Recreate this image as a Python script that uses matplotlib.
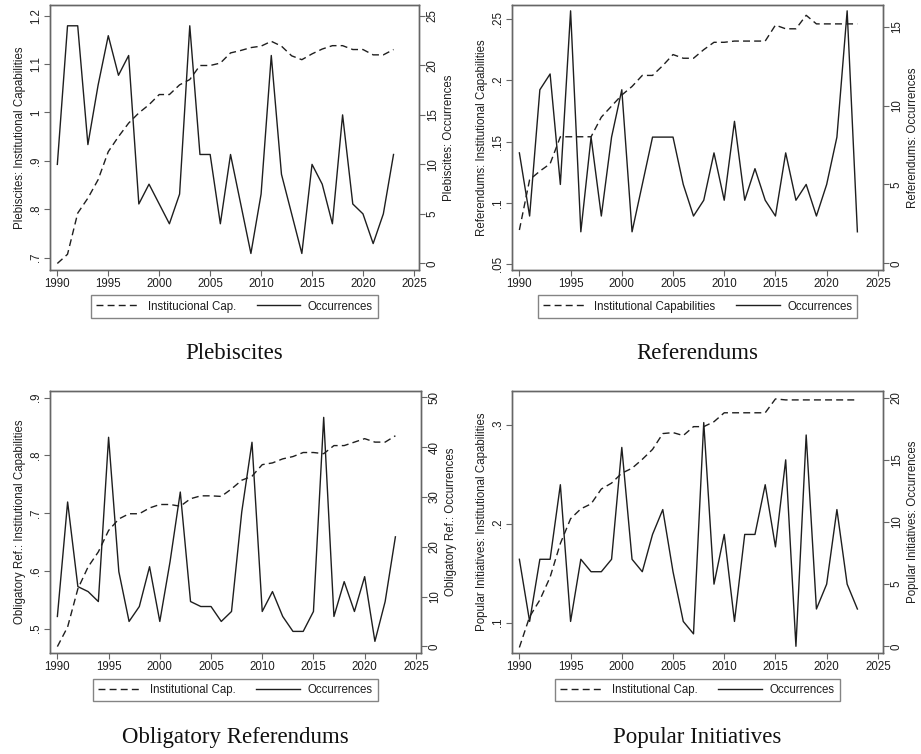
import matplotlib
matplotlib.use("Agg")
import matplotlib.pyplot as plt
from matplotlib.ticker import FuncFormatter

plt.rcParams['font.family'] = ['Liberation Sans', 'DejaVu Sans']

years = list(range(1990, 2024))

# Plebiscites
pleb_cap = [0.688, 0.707, 0.792, 0.823, 0.861, 0.919, 0.950, 0.978, 0.999, 1.016,
            1.037, 1.037, 1.057, 1.068, 1.097, 1.097, 1.102, 1.123, 1.128, 1.134,
            1.137, 1.147, 1.137, 1.117, 1.109, 1.121, 1.131, 1.138, 1.138, 1.130,
            1.130, 1.119, 1.119, 1.130]
pleb_occ = [10, 24, 24, 12, 18, 23, 19, 21, 6, 8, 6, 4, 7, 24, 11, 11, 4, 11, 6, 1,
            7, 21, 9, 5, 1, 10, 8, 4, 15, 6, 5, 2, 5, 11]

# Referendums
ref_cap = [0.078, 0.119, 0.126, 0.132, 0.154, 0.154, 0.154, 0.154, 0.170, 0.179,
           0.188, 0.195, 0.204, 0.204, 0.212, 0.221, 0.218, 0.218, 0.225, 0.231,
           0.231, 0.232, 0.232, 0.232, 0.232, 0.245, 0.242, 0.242, 0.253, 0.246,
           0.246, 0.246, 0.246, 0.246]
ref_occ = [7, 3, 11, 12, 5, 16, 2, 8, 3, 8, 11, 2, 5, 8, 8, 8, 5, 3, 4, 7,
           4, 9, 4, 6, 4, 3, 7, 4, 5, 3, 5, 8, 16, 2]

# Obligatory referendums
obl_cap = [0.469, 0.503, 0.569, 0.607, 0.633, 0.670, 0.690, 0.699, 0.699, 0.709,
           0.715, 0.715, 0.712, 0.725, 0.730, 0.730, 0.729, 0.742, 0.757, 0.764,
           0.784, 0.787, 0.794, 0.798, 0.805, 0.805, 0.803, 0.817, 0.817, 0.823,
           0.829, 0.823, 0.823, 0.834]
obl_occ = [6, 29, 12, 11, 9, 42, 15, 5, 8, 16, 5, 17, 31, 9, 8, 8, 5, 7, 27, 41,
           7, 11, 6, 3, 3, 7, 46, 6, 13, 7, 14, 1, 9, 22]

# Popular initiatives
pop_cap = [0.075, 0.106, 0.123, 0.146, 0.180, 0.205, 0.215, 0.220, 0.235, 0.241,
           0.251, 0.256, 0.265, 0.275, 0.291, 0.292, 0.289, 0.298, 0.298, 0.303,
           0.312, 0.312, 0.312, 0.312, 0.312, 0.326, 0.325, 0.325, 0.325, 0.325,
           0.325, 0.325, 0.325, 0.325]
pop_occ = [7, 2, 7, 7, 13, 2, 7, 6, 6, 7, 16, 7, 6, 9, 11, 6, 2, 1, 18, 5,
           9, 2, 9, 9, 13, 8, 15, 0, 17, 3, 5, 11, 5, 3]

W, H = 921, 754
DARK = '#1e1e1e'
FRAME = '#666666'


def box(l, t, r, b):
    return [l / W, 1 - b / H, (r - l) / W, (b - t) / H]


def strip_zero(v, pos):
    s = '{:g}'.format(round(v, 4))
    if s.startswith('0.'):
        s = s[1:]
    return s


def panel(fig, rect, cap, occ, name, title, cap_label, ylims, yticks, occ_lims, occ_ticks,
          legend_y, title_y):
    ax = fig.add_axes(box(*rect))
    ax2 = ax.twinx()
    l1, = ax.plot(years, cap, color=DARK, lw=1.0, dashes=(5, 3))
    l2, = ax2.plot(years, occ, color=DARK, lw=1.0)

    ax.set_xlim(1989.28, 2025.5)
    ax.set_xticks(range(1990, 2026, 5))
    ax.set_ylim(*ylims)
    ax.set_yticks(yticks)
    ax.yaxis.set_major_formatter(FuncFormatter(strip_zero))
    ax2.set_ylim(*occ_lims)
    ax2.set_yticks(occ_ticks)

    ax.set_ylabel(name + ': Institutional Capabilities', fontsize=8.3, color=DARK, labelpad=3)
    ax2.set_ylabel(name + ': Occurrences', fontsize=8.3, color=DARK, rotation=90, labelpad=3)

    for a in (ax, ax2):
        for sp in a.spines.values():
            sp.set_color(FRAME)
            sp.set_linewidth(1.0)
        a.tick_params(length=4, width=0.8, color=FRAME, labelsize=8.3, labelcolor=DARK, pad=2)
    for lbl in ax.get_yticklabels() + ax2.get_yticklabels():
        lbl.set_rotation(90)
        lbl.set_va('center')
        lbl.set_ha('center')
    ax.tick_params(axis='y', pad=6)
    ax2.tick_params(axis='y', pad=6)

    cx = (rect[0] + rect[2]) / 2 / W
    leg = ax.legend([l1, l2], [cap_label, 'Occurrences'], loc='center',
                    bbox_to_anchor=(cx, 1 - legend_y / H), bbox_transform=fig.transFigure,
                    ncol=2, fontsize=8.3, frameon=True, fancybox=False, edgecolor=FRAME,
                    handlelength=3.8, columnspacing=1.8, handletextpad=0.65,
                    borderpad=0.45, labelcolor=DARK)
    leg.get_frame().set_linewidth(1.0)
    fig.text(cx, 1 - title_y / H, title, ha='center', va='center',
             family=['Liberation Serif', 'DejaVu Serif'], fontsize=16.5, color='#111111')


fig = plt.figure(figsize=(9.21, 7.54), dpi=100)

panel(fig, (50, 5, 419, 270), pleb_cap, pleb_occ, 'Plebiscites', 'Plebiscites',
      'Institucional Cap.',
      (0.6745, 1.222), [0.7, 0.8, 0.9, 1.0, 1.1, 1.2], (-0.67, 26.1), range(0, 26, 5),
      306.5, 354)
panel(fig, (512, 5, 883, 270), ref_cap, ref_occ, 'Referendums', 'Referendums',
      'Institutional Capabilities',
      (0.0454, 0.2614), [0.05, 0.1, 0.15, 0.2, 0.25], (-0.42, 16.37), range(0, 16, 5),
      306.5, 354)
panel(fig, (50, 391, 421, 653), obl_cap, obl_occ, 'Obligatory Ref.', 'Obligatory Referendums',
      'Institutional Cap.',
      (0.4579, 0.9115), [0.5, 0.6, 0.7, 0.8, 0.9], (-1.34, 51.3), range(0, 51, 10),
      690.0, 738)
panel(fig, (512, 391, 883, 653), pop_cap, pop_occ, 'Popular Initiatives', 'Popular Initiatives',
      'Institutional Cap.',
      (0.0694, 0.334), [0.1, 0.2, 0.3], (-0.54, 20.54), range(0, 21, 5),
      690.0, 738)

fig.savefig('out.png', dpi=100, facecolor='white')
